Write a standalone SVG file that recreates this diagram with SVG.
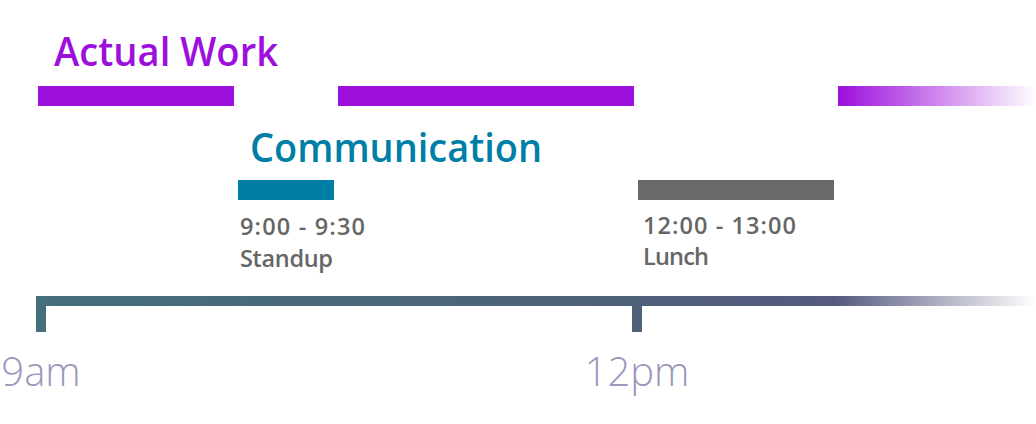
<svg xmlns="http://www.w3.org/2000/svg" width="1036" height="424" viewBox="0 0 1036 424">
  <defs>
    <linearGradient id="fadePurple" x1="838" y1="0" x2="1036" y2="0" gradientUnits="userSpaceOnUse">
      <stop offset="0" stop-color="#9c0fdc" stop-opacity="1"/>
      <stop offset="1" stop-color="#9c0fdc" stop-opacity="0"/>
    </linearGradient>
    <linearGradient id="axisGrad" x1="36" y1="0" x2="1036" y2="0" gradientUnits="userSpaceOnUse">
      <stop offset="0" stop-color="#446f7b"/>
      <stop offset="0.6" stop-color="#4f6079"/>
      <stop offset="0.8" stop-color="#565a80"/>
      <stop offset="1" stop-color="#565a80" stop-opacity="0"/>
    </linearGradient>
    <style>
      .heading { font-family: "Open Sans", "Noto Sans", "Liberation Sans", sans-serif; font-weight: 600; font-size: 40px; }
      .work { fill: #9c0fdc; }
      .comm { fill: #007fa6; }
      .small { font-family: "Open Sans", "Noto Sans", "Liberation Sans", sans-serif; font-weight: 600; font-size: 23.5px; fill: #666666; }
      .axislabel { font-family: "Open Sans", "Noto Sans", "Liberation Sans", sans-serif; font-weight: 300; font-size: 40px; fill: #9a97bc; text-anchor: middle; }
    </style>
  </defs>

  <g id="actual-work">
    <text class="heading work" x="54" y="66" textLength="224" lengthAdjust="spacingAndGlyphs">Actual Work</text>
    <rect class="work" x="38" y="86" width="196" height="20"/>
    <rect class="work" x="338" y="86" width="296" height="20"/>
    <rect x="838" y="86" width="198" height="20" fill="url(#fadePurple)"/>
  </g>

  <g id="communication">
    <text class="heading comm" x="250" y="162" textLength="292" lengthAdjust="spacingAndGlyphs">Communication</text>
  </g>

  <g id="standup">
    <rect class="comm" x="238" y="180" width="96" height="20"/>
    <text class="small" x="240" y="235" textLength="125">9:00 - 9:30</text>
    <text class="small" x="240" y="267" textLength="93">Standup</text>
  </g>

  <g id="lunch">
    <rect x="638" y="180" width="196" height="20" fill="#6a6a6a"/>
    <text class="small" x="643" y="234" textLength="153">12:00 - 13:00</text>
    <text class="small" x="643" y="265" textLength="66">Lunch</text>
  </g>

  <g id="connectors">
    <rect x="36" y="296" width="1000" height="10" fill="url(#axisGrad)"/>
    <rect x="36" y="296" width="10" height="36" fill="#446f7b"/>
    <rect x="632" y="296" width="10" height="36" fill="#4f6079"/>
  </g>

  <g id="axis-labels">
    <text class="axislabel" x="41" y="386">9am</text>
    <text class="axislabel" x="637" y="386">12pm</text>
  </g>
</svg>
